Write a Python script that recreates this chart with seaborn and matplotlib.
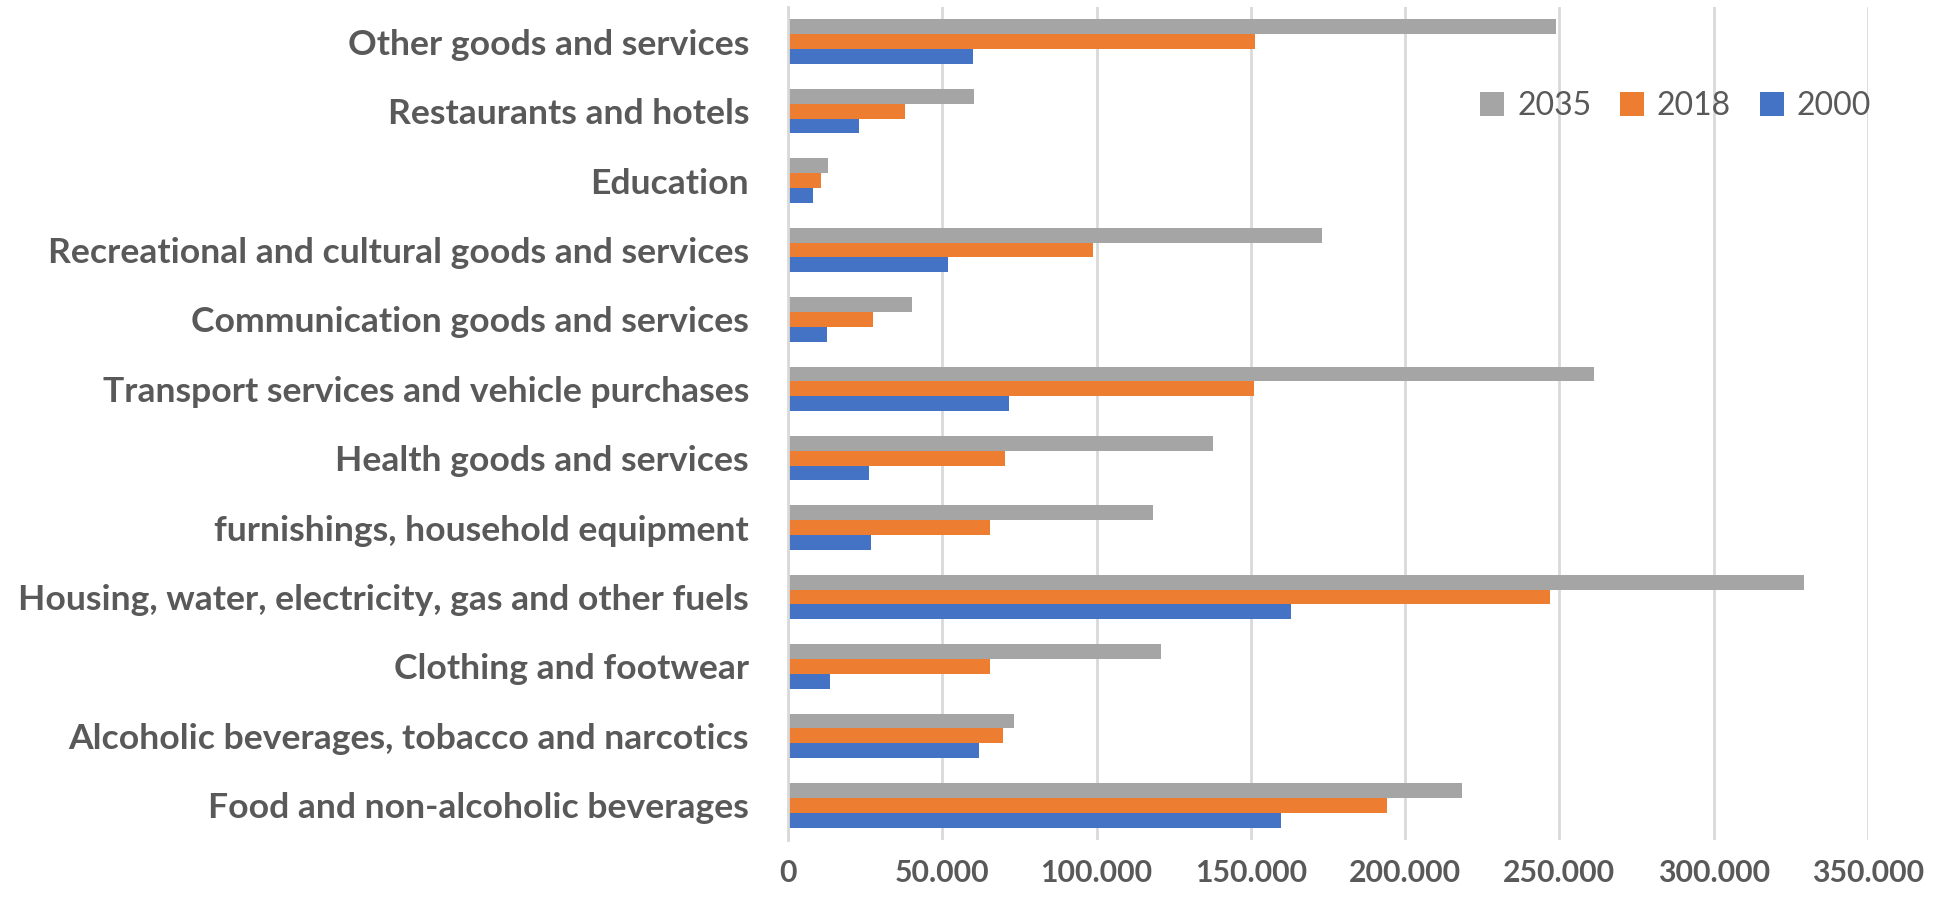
import pandas as pd
import matplotlib.pyplot as plt
import matplotlib.ticker as mticker
from matplotlib import font_manager
import seaborn as sns

# categories, top to bottom as in the chart
categories = [
    'Other goods and services',
    'Restaurants and hotels',
    'Education',
    'Recreational and cultural goods and services',
    'Communication goods and services',
    'Transport services and vehicle purchases',
    'Health goods and services',
    'furnishings, household equipment',
    'Housing, water, electricity, gas and other fuels',
    'Clothing and footwear',
    'Alcoholic beverages, tobacco and narcotics',
    'Food and non-alcoholic beverages',
]
years = ['2035', '2018', '2000']

v2035 = [248800, 60400, 12900, 173100, 40100, 261100, 137700, 118400, 329300, 120900, 73300, 218500]
v2018 = [151400, 38000, 10600, 98700, 27600, 150900, 70400, 65600, 246800, 65400, 69700, 194000]
v2000 = [59900, 23000, 8100, 51900, 12800, 71500, 26100, 27000, 163100, 13500, 61800, 159900]

colors = {'2035': '#A5A5A5', '2018': '#ED7D31', '2000': '#4472C4'}
text_color = '#595959'

df = pd.DataFrame({
    'category': categories * 3,
    'year': ['2035'] * 12 + ['2018'] * 12 + ['2000'] * 12,
    'value': v2035 + v2018 + v2000,
})

sns.set_style('white')
installed = {f.name for f in font_manager.fontManager.ttflist}
font = next(f for f in ['Lato', 'Open Sans', 'DejaVu Sans'] if f in installed)
plt.rcParams['font.family'] = [font, 'DejaVu Sans']

fig = plt.figure(figsize=(19.46, 8.99), dpi=100)
ax = fig.add_axes([788 / 1946, 1 - 840 / 899, (1868 - 788) / 1946, (840 - 7) / 899])

sns.barplot(data=df, y='category', x='value', hue='year', hue_order=years,
            order=categories, palette=colors, orient='h', width=0.64,
            saturation=1, linewidth=0, ax=ax)

ax.set_xlim(0, 350000)
ax.set_xticks(range(0, 350001, 50000))
ax.xaxis.set_major_formatter(mticker.FuncFormatter(lambda x, p: f'{x:,.0f}'.replace(',', '.')))
ax.grid(axis='x', color='#D9D9D9', linewidth=2)
ax.set_axisbelow(True)
for s in ['top', 'right', 'bottom']:
    ax.spines[s].set_visible(False)
ax.spines['left'].set_color('#D9D9D9')
ax.spines['left'].set_linewidth(2)

ax.set_xlabel('')
ax.set_ylabel('')
ax.tick_params(axis='y', length=0, pad=28, labelsize=22, labelcolor=text_color)
ax.tick_params(axis='x', length=0, pad=14, labelsize=22, labelcolor=text_color)
for lab in ax.get_yticklabels() + ax.get_xticklabels():
    lab.set_fontweight('bold')

# fit label sizes to the widths seen in the reference
fig.canvas.draw()
r = fig.canvas.get_renderer()
widest = max(t.get_window_extent(r).width for t in ax.get_yticklabels())
ysize = 22 * 728 / widest
ax.tick_params(axis='y', labelsize=ysize)
xlab = ax.get_xticklabels()[2]
xsize = 22 * 112 / xlab.get_window_extent(r).width
ax.tick_params(axis='x', labelsize=xsize)

ax.legend(loc='center', bbox_to_anchor=(0.861, 1 - 106 / 899), bbox_transform=fig.transFigure,
          ncol=3, frameon=False, fontsize=23, labelcolor=text_color,
          handlelength=0.75, handleheight=0.75, handletextpad=0.4, columnspacing=0.9)

fig.savefig('out.png', dpi=100)
